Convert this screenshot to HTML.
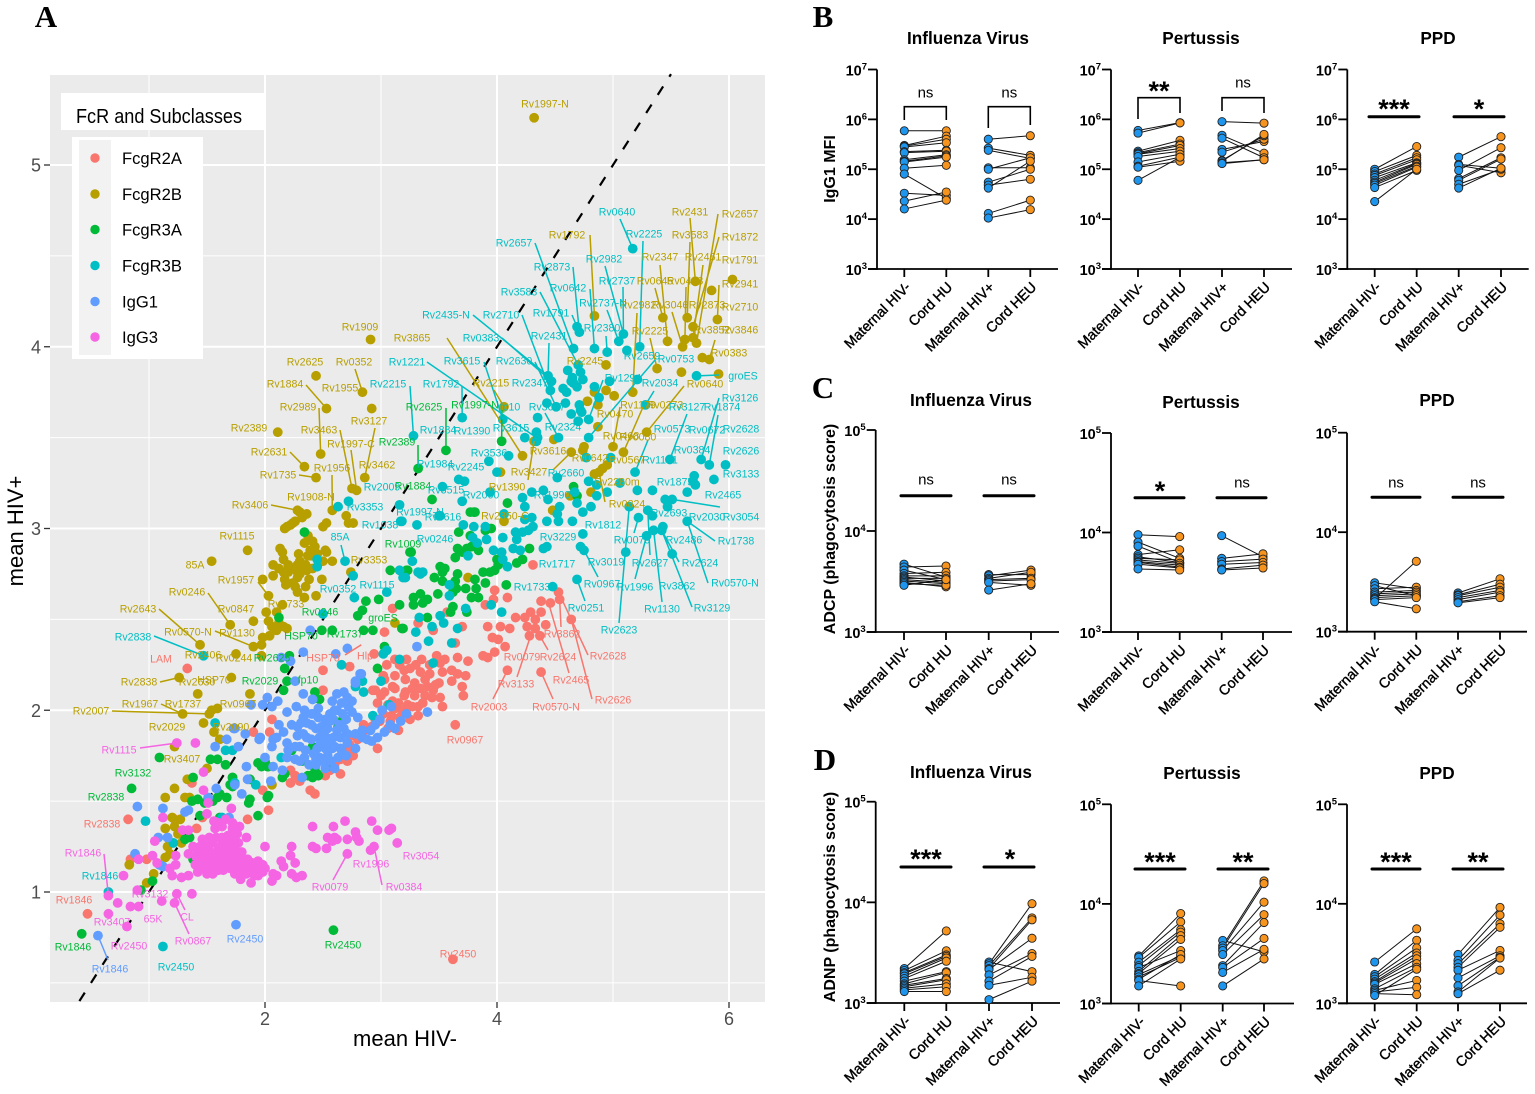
<!DOCTYPE html>
<html lang="en">
<head>
<meta charset="utf-8">
<title>FcR and subclass scatter with paired maternal and cord panels</title>
<style>
html,body{margin:0;padding:0;background:#fff;}
svg{display:block;font-family:"Liberation Sans",sans-serif;}
</style>
</head>
<body>
<svg id="figure" xmlns="http://www.w3.org/2000/svg" width="1535" height="1094" viewBox="0 0 1535 1094">
  <rect x="0" y="0" width="1535" height="1094" fill="#fff"/>
  <text x="46" y="27" text-anchor="middle" font-family="Liberation Serif, serif" font-weight="bold" font-size="31">A</text>
  <text x="823" y="27" text-anchor="middle" font-family="Liberation Serif, serif" font-weight="bold" font-size="31">B</text>
  <text x="823" y="398" text-anchor="middle" font-family="Liberation Serif, serif" font-weight="bold" font-size="31">C</text>
  <text x="825" y="770" text-anchor="middle" font-family="Liberation Serif, serif" font-weight="bold" font-size="31">D</text>
  <g id="scatter"></g>
  <g>
    <rect x="61" y="93" width="203" height="37" fill="#fff"/>
    <text x="76" y="123" font-size="20" textLength="166" lengthAdjust="spacingAndGlyphs">FcR and Subclasses</text>
    <rect x="72" y="137" width="131" height="222" fill="#fff"/>
    <rect x="79" y="140" width="32" height="215" fill="#F2F2F2"/>
    <circle cx="95" cy="158" r="4.7" fill="#F8766D"/>
    <circle cx="95" cy="194" r="4.7" fill="#B79F00"/>
    <circle cx="95" cy="229.5" r="4.7" fill="#00BA38"/>
    <circle cx="95" cy="265.5" r="4.7" fill="#00BFC4"/>
    <circle cx="95" cy="301.5" r="4.7" fill="#619CFF"/>
    <circle cx="95" cy="337" r="4.7" fill="#F564E3"/>
    <text x="122" y="164" font-size="16.6">FcgR2A</text>
    <text x="122" y="200" font-size="16.6">FcgR2B</text>
    <text x="122" y="235.5" font-size="16.6">FcgR3A</text>
    <text x="122" y="271.5" font-size="16.6">FcgR3B</text>
    <text x="122" y="307.5" font-size="16.6">IgG1</text>
    <text x="122" y="343" font-size="16.6">IgG3</text>
  </g>
  <text x="405" y="1046" text-anchor="middle" font-size="22">mean HIV-</text>
  <text x="23" y="531" text-anchor="middle" font-size="22" transform="rotate(-90 23 531)">mean HIV+</text>
  <text x="835" y="169" text-anchor="middle" font-size="16" font-weight="bold" transform="rotate(-90 835 169)">IgG1 MFI</text>
  <text x="835" y="529" text-anchor="middle" font-size="16" font-weight="bold" transform="rotate(-90 835 529)">ADCP (phagocytosis score)</text>
  <text x="835" y="897" text-anchor="middle" font-size="16" font-weight="bold" transform="rotate(-90 835 897)">ADNP (phagocytosis score)</text>
  <g id="panels"></g>
</svg>
<script>
/* ---------- Panel A data: mean HIV- , mean HIV+ ---------- */
const fcgr2aPoints=[[3.62,.63],[3.64,1.92],[4.09,2.22],[4.38,2.21],[4.53,2.65],[4.54,2.61],[4.38,2.60],[4.46,2.59],[4.64,2.50],[4.33,2.50],[4.29,2.54],[4.38,2.54],[4.24,2.51],[4.16,2.51],[4.28,2.41],[4.37,2.41],[3.92,2.46],[4.03,2.46],[4.11,2.45],[3.96,2.40],[4.01,2.39],[4.07,2.35],[3.98,2.32],[3.88,2.30],[3.92,2.29],[3.98,2.66],[3.97,2.61],[4.09,2.62],[3.90,2.58],[3.66,2.29],[3.75,2.27],[3.61,2.22],[3.66,2.20],[3.73,2.19],[3.61,2.16],[3.70,2.13],[3.71,2.08],[3.53,2.02],[3.45,2.11],[3.51,2.07],[2.97,1.79],[3.03,2.43],[2.94,2.31],[2.73,2.24],[2.50,2.22],[2.50,2.11],[2.93,2.11],[3.02,2.19],[2.04,1.88],[2.06,1.95],[3.16,2.25],[3.25,2.23],[3.34,2.21],[3.42,2.25],[3.51,2.26],[3.53,2.21],[3.03,2.17],[3.12,2.19],[3.21,2.17],[3.29,2.15],[3.38,2.17],[3.47,2.14],[2.95,2.11],[3.03,2.10],[3.12,2.12],[3.21,2.10],[3.29,2.08],[3.38,2.08],[3.44,2.07],[2.97,2.04],[3.06,2.03],[3.15,2.04],[3.23,2.03],[3.32,2.02],[3.09,1.97],[3.16,1.96],[3.25,1.95],[3.32,1.97],[2.99,1.94],[3.06,1.90],[3.15,1.89],[2.92,1.91],[2.84,1.87],[2.75,1.86],[2.65,1.73],[2.69,1.78],[2.73,1.81],[2.56,1.67],[2.52,1.64],[2.39,1.56],[2.60,1.70],[2.43,1.54],[2.30,1.61],[2.22,1.67],[2.65,1.65],[2.76,1.75],[2.71,1.72],[2.26,1.64],[2.22,1.60],[2.03,1.45],[1.85,1.40],[1.98,1.56],[.82,1.40],[.47,.88],[.84,1.18],[.98,1.18],[1.41,1.35],[1.46,1.41],[1.37,1.60],[1.22,1.40],[1.33,2.23],[3.10,2.56],[3.32,2.48],[3.45,2.44],[3.57,2.54],[3.70,2.46],[3.64,2.37],[4.31,2.80],[1.90,1.88],[3.05,2.25],[3.10,2.13],[3.20,2.22],[3.30,2.25],[3.40,2.13],[3.00,2.08],[3.10,2.05],[3.18,2.00],[3.27,2.02],[3.36,2.04],[3.42,2.20],[3.50,2.15],[3.20,2.08],[3.08,1.94],[3.02,1.98],[2.95,1.95],[2.85,1.92],[3.12,2.28],[3.22,2.28],[3.35,2.28],[3.55,2.28],[3.48,2.30],[2.80,1.84],[2.72,1.78],[3.12,2.01],[3.27,2.12],[3.34,2.12],[4.26,2.46],[4.33,2.45],[4.42,2.47]];
const fcgr2bPoints=[[4.32,5.26],[6.03,4.37],[5.71,4.36],[5.85,4.31],[5.90,4.15],[5.64,4.16],[5.69,4.11],[5.69,4.05],[5.72,4.02],[5.62,4.04],[5.60,4.0],[5.47,4.03],[5.43,4.16],[4.84,4.17],[5.77,3.94],[5.83,3.93],[5.91,3.85],[5.59,3.86],[5.38,3.88],[4.94,3.90],[5.17,3.75],[4.84,3.75],[4.94,3.76],[5.01,3.73],[4.78,3.70],[4.87,3.68],[4.06,3.67],[4.87,3.56],[5.29,3.53],[5.0,3.45],[5.09,3.42],[4.75,3.45],[4.74,3.43],[4.64,3.42],[4.49,3.49],[4.32,3.48],[4.22,3.40],[4.03,3.31],[4.95,3.35],[4.91,3.33],[4.88,3.31],[4.84,3.30],[4.81,3.20],[4.63,3.18],[4.48,3.10],[3.75,2.73],[4.06,3.04],[2.91,4.04],[2.44,3.84],[2.53,3.66],[2.84,3.75],[2.92,3.66],[2.11,3.53],[2.48,3.41],[2.34,3.34],[2.44,3.28],[2.86,3.28],[2.75,3.22],[2.79,3.21],[2.28,3.10],[2.36,3.08],[2.32,3.06],[2.26,3.04],[2.22,3.02],[2.17,3.0],[2.19,3.01],[2.58,3.10],[2.70,3.07],[2.72,3.03],[2.76,3.03],[2.53,3.03],[2.50,3.01],[1.85,2.88],[1.54,2.82],[2.41,2.93],[2.43,2.90],[2.39,2.88],[2.37,2.85],[2.52,2.88],[2.53,2.87],[2.58,2.82],[2.50,2.82],[2.37,2.96],[2.13,2.89],[2.15,2.87],[2.16,2.83],[2.29,2.86],[2.07,2.80],[2.07,2.74],[2.28,2.80],[2.32,2.77],[2.28,2.76],[2.36,2.77],[2.41,2.78],[2.16,2.76],[2.20,2.76],[2.17,2.72],[2.28,2.73],[2.49,2.72],[1.98,2.72],[2.26,2.68],[2.28,2.65],[2.35,2.68],[2.44,2.63],[2.34,2.62],[2.03,2.63],[2.74,2.76],[1.70,2.47],[1.90,2.49],[2.01,2.54],[2.15,2.58],[2.10,2.54],[2.03,2.49],[2.16,2.46],[2.10,2.44],[2.19,2.45],[2.04,2.41],[1.98,2.40],[1.90,2.35],[1.97,2.36],[1.44,2.36],[1.75,2.31],[1.97,2.30],[1.26,2.18],[1.71,2.18],[1.42,2.09],[1.87,2.09],[1.54,2.0],[1.59,2.01],[1.52,1.98],[1.29,1.98],[1.47,1.93],[1.56,1.88],[1.61,1.84],[1.22,1.80],[3.12,2.48],[1.33,1.62],[1.22,1.57],[1.14,1.52],[1.31,1.52],[1.35,1.52],[1.50,1.68],[2.06,1.59],[1.20,1.41],[1.27,1.40],[1.22,1.36],[1.14,1.35],[1.25,1.32],[1.16,1.30],[1.28,1.27],[1.16,1.25],[1.14,1.19],[1.18,1.21],[.83,1.15],[1.04,1.10],[.98,1.05],[2.30,2.82],[2.35,2.80],[2.25,2.78],[2.40,2.85],[2.45,2.86],[2.30,2.75],[2.20,2.80],[2.12,2.78],[2.38,2.72],[2.24,2.70],[2.18,2.69],[2.12,2.48],[2.06,2.46],[2.30,3.09],[2.24,3.03],[2.42,2.87],[2.34,2.92]];
const fcgr3aPoints=[[2.59,.79],[.42,.77],[.85,1.57],[1.09,1.74],[3.32,3.33],[3.56,3.43],[4.04,3.48],[4.66,3.23],[4.69,3.18],[3.44,3.16],[4.09,3.14],[3.81,3.09],[3.77,3.09],[3.80,3.09],[3.67,2.98],[3.95,3.0],[3.90,2.99],[3.77,2.96],[3.66,2.89],[3.70,2.87],[3.74,2.89],[3.78,2.90],[3.84,2.88],[3.64,2.84],[4.0,2.83],[4.01,2.80],[3.98,2.77],[4.17,2.81],[4.22,2.83],[4.28,2.89],[4.08,2.69],[3.51,2.79],[3.55,2.78],[3.53,2.76],[3.46,2.73],[3.53,2.71],[3.66,2.75],[3.64,2.71],[3.65,2.67],[3.73,2.67],[3.81,2.72],[3.82,2.67],[3.78,2.62],[3.84,2.62],[3.88,2.76],[3.94,2.76],[3.90,2.70],[3.40,2.61],[3.34,2.64],[3.28,2.62],[3.36,2.59],[3.28,2.58],[3.49,2.64],[3.62,2.65],[3.62,2.57],[3.60,2.54],[3.74,2.54],[3.40,2.51],[3.25,2.87],[3.22,2.77],[3.19,2.45],[2.34,2.98],[2.12,2.51],[2.49,2.44],[2.58,2.44],[2.85,2.44],[2.93,2.44],[3.18,2.45],[2.80,2.52],[2.84,2.55],[2.87,2.60],[2.98,2.61],[3.16,2.58],[3.08,2.77],[3.23,2.77],[3.26,2.87],[2.97,2.23],[3.03,2.35],[2.17,2.23],[2.21,2.30],[2.19,2.16],[2.16,2.11],[2.43,2.10],[2.47,2.06],[2.66,1.94],[2.63,1.91],[2.41,1.80],[2.54,1.69],[2.43,1.68],[2.39,1.64],[2.46,1.64],[2.41,1.63],[2.32,1.72],[2.23,1.78],[2.0,1.72],[1.97,1.69],[2.03,1.69],[2.15,1.63],[2.17,1.65],[1.72,1.63],[1.72,1.58],[2.03,1.53],[1.87,1.62],[1.38,1.63],[1.53,1.73],[1.59,1.73],[1.66,1.70],[1.72,1.63],[1.70,1.59],[1.87,1.51],[1.86,1.49],[2.02,1.52],[1.94,1.42],[1.61,1.54],[1.67,1.52],[1.55,1.50],[1.59,1.52],[1.37,1.50],[1.42,1.51],[1.48,1.49],[1.44,1.42],[1.61,1.41],[1.31,1.29],[1.35,1.30],[1.03,1.06],[.93,1.01],[1.38,1.18],[1.94,1.71],[2.02,1.69],[2.37,1.64],[2.45,1.65]];
const fcgr3bPoints=[[5.17,4.54],[4.69,4.11],[4.71,4.08],[4.66,3.99],[4.84,3.99],[4.95,3.97],[5.05,4.03],[5.09,4.07],[5.12,3.98],[5.23,4.0],[4.70,3.90],[4.61,3.87],[4.44,3.84],[4.72,3.86],[4.65,3.83],[4.74,3.82],[4.64,3.81],[4.47,3.81],[4.66,3.80],[4.69,3.78],[4.57,3.77],[4.60,3.75],[4.46,3.76],[4.84,3.78],[4.97,3.81],[4.88,3.72],[4.59,3.69],[4.43,3.69],[4.51,3.67],[4.71,3.68],[4.72,3.65],[4.64,3.63],[4.73,3.64],[4.79,3.60],[4.70,3.59],[5.21,3.82],[5.72,3.84],[5.28,3.68],[4.05,3.60],[3.70,3.61],[4.35,3.61],[4.34,3.53],[4.35,3.50],[4.24,3.50],[4.34,3.48],[4.53,3.50],[4.79,3.50],[3.28,3.51],[4.10,3.40],[3.93,3.37],[4.0,3.31],[3.67,3.27],[3.72,3.26],[3.53,3.23],[3.94,3.20],[3.70,3.15],[4.77,3.39],[4.98,3.39],[5.49,3.38],[5.76,3.38],[5.83,3.35],[5.97,3.35],[5.19,3.31],[5.70,3.29],[5.69,3.26],[5.71,3.24],[5.87,3.27],[5.64,3.20],[5.34,3.21],[5.21,3.21],[5.06,3.25],[4.95,3.20],[4.86,3.18],[4.86,3.24],[4.79,3.26],[4.52,3.28],[4.67,3.20],[4.69,3.14],[4.81,3.12],[4.54,3.12],[4.40,3.21],[4.44,3.16],[4.30,3.20],[4.22,3.17],[4.24,3.12],[5.14,3.12],[5.30,3.10],[5.34,3.07],[5.22,3.06],[5.45,3.16],[5.51,3.16],[5.47,3.12],[5.64,3.04],[5.43,3.01],[5.35,2.99],[5.42,2.99],[5.29,2.96],[5.11,2.87],[5.51,2.86],[4.74,2.97],[4.72,2.90],[4.75,2.88],[4.40,2.89],[4.43,2.90],[4.69,2.72],[4.48,2.68],[4.43,3.04],[4.65,3.04],[4.53,3.04],[4.52,3.08],[4.74,3.09],[4.30,3.06],[4.24,3.05],[4.31,3.01],[4.27,2.99],[4.22,2.98],[4.16,2.98],[4.17,2.94],[4.14,2.89],[4.20,2.88],[4.06,3.08],[3.71,3.02],[3.80,3.01],[3.90,3.01],[3.91,2.94],[3.79,2.95],[3.83,2.92],[4.05,2.95],[3.97,2.88],[4.04,2.87],[4.05,2.83],[4.09,2.79],[3.75,2.85],[3.31,3.02],[3.18,3.04],[3.51,3.07],[3.27,2.82],[3.34,2.75],[3.19,2.73],[3.59,2.69],[3.59,2.63],[3.73,2.56],[3.51,2.52],[3.54,2.48],[3.33,2.51],[3.44,2.46],[3.30,2.43],[3.41,2.38],[3.61,2.37],[3.66,2.45],[3.95,2.58],[4.04,2.54],[3.45,2.26],[2.69,2.82],[2.45,2.83],[2.45,2.79],[2.76,2.74],[2.77,2.62],[3.05,2.65],[3.16,2.77],[3.21,2.73],[3.32,2.76],[3.36,2.76],[2.50,2.53],[2.66,2.25],[3.02,2.31],[3.05,2.33],[3.16,2.28],[3.0,2.16],[2.84,2.16],[2.78,2.13],[2.85,2.10],[3.07,2.03],[2.93,1.97],[1.57,1.93],[3.16,3.13],[3.17,3.04],[2.63,3.12],[2.72,3.15],[3.50,3.07],[1.47,2.30],[1.66,1.78],[1.72,1.78],[1.74,1.60],[1.92,1.59],[2.14,1.74],[1.63,1.41],[1.21,1.27],[.97,1.39],[.65,1.0],[1.12,.70]];
const igg1Points=[[1.75,.82],[.56,.76],[.90,1.47],[1.12,1.46],[.88,1.21],[1.08,1.30],[1.16,1.30],[1.31,1.44],[1.34,1.45],[1.58,1.57],[1.51,1.52],[1.69,1.41],[1.09,1.15],[1.12,1.14],[2.39,2.44],[2.33,2.32],[2.61,2.31],[2.71,2.34],[2.14,2.29],[2.22,2.27],[2.26,2.16],[1.88,2.03],[1.98,2.03],[2.02,2.07],[2.06,2.02],[2.11,2.05],[2.33,2.09],[2.41,2.06],[2.82,2.20],[2.78,2.15],[3.31,2.35],[1.74,1.90],[1.83,1.87],[1.67,1.84],[1.57,1.80],[1.77,1.80],[1.95,1.84],[2.62,2.09],[2.71,2.07],[2.66,2.04],[2.62,2.0],[2.56,1.98],[2.67,1.98],[2.52,1.95],[2.59,1.95],[2.49,1.91],[2.54,1.90],[2.62,1.89],[2.47,1.85],[2.53,1.85],[2.59,1.85],[2.65,1.85],[2.71,1.87],[2.45,1.79],[2.52,1.79],[2.58,1.79],[2.65,1.79],[2.47,1.74],[2.54,1.75],[2.63,1.74],[2.44,1.73],[2.78,1.87],[2.84,1.89],[2.91,1.89],[2.97,1.85],[2.92,1.83],[2.84,1.85],[2.78,1.79],[2.71,1.82],[2.99,1.95],[3.01,2.0],[3.08,1.92],[3.09,2.02],[3.17,1.94],[3.22,1.98],[3.40,1.99],[2.80,1.96],[2.75,1.99],[2.83,2.20],[2.78,2.16],[2.27,2.02],[2.41,2.06],[2.19,1.99],[2.34,2.0],[2.46,2.01],[2.41,1.98],[2.33,1.96],[2.23,1.92],[2.28,1.91],[2.36,1.93],[2.28,1.86],[2.33,1.87],[2.19,1.82],[2.26,1.80],[2.06,1.80],[2.07,1.84],[1.96,1.85],[1.73,1.90],[2.0,1.74],[2.19,1.74],[2.26,1.73],[2.34,1.74],[2.32,1.63],[2.07,1.69],[2.15,1.67],[1.84,1.69],[2.05,1.61],[1.74,1.59],[1.85,1.62],[1.80,1.54],[2.30,1.72],[2.35,1.78],[2.38,1.70],[2.40,1.84],[2.44,1.90],[2.42,1.76],[2.48,1.82],[2.50,1.88],[2.50,1.72],[2.55,1.82],[2.56,1.94],[2.57,1.72],[2.60,1.80],[2.60,2.0],[2.64,1.92],[2.68,1.90],[2.66,1.78],[2.70,1.95],[2.72,2.02],[2.58,2.05],[2.68,2.10],[2.75,2.05],[2.46,1.96],[2.40,1.92],[2.36,1.85],[2.44,1.70],[2.52,1.68],[2.60,1.68],[2.70,1.75],[2.88,1.84],[2.95,1.92],[3.03,1.88],[3.12,1.90],[2.12,1.92],[2.16,1.88],[2.10,1.85],[2.20,1.78],[2.30,1.80],[2.40,1.98],[2.31,1.93]];
const igg3Points=[[2.41,1.36],[2.59,1.36],[2.69,1.39],[2.92,1.39],[2.97,1.34],[2.78,1.33],[3.07,1.34],[3.09,1.35],[2.54,1.30],[2.60,1.30],[2.58,1.28],[2.62,1.29],[2.71,1.29],[2.79,1.30],[2.81,1.28],[3.14,1.27],[2.41,1.25],[2.44,1.24],[2.53,1.24],[2.94,1.25],[2.91,1.23],[2.71,1.21],[2.23,1.25],[2.22,1.20],[2.26,1.16],[2.14,1.17],[2.16,1.14],[2.07,1.10],[2.10,1.09],[2.06,1.06],[2.23,1.10],[2.27,1.08],[2.32,1.09],[2.0,1.25],[1.84,1.30],[1.56,1.39],[1.57,1.35],[1.63,1.36],[1.76,1.32],[1.68,1.31],[1.63,1.30],[1.74,1.30],[1.46,1.29],[1.55,1.27],[1.63,1.26],[1.70,1.27],[1.77,1.27],[1.50,1.25],[1.38,1.25],[1.34,1.21],[1.42,1.22],[1.53,1.22],[1.59,1.22],[1.67,1.22],[1.74,1.23],[1.80,1.22],[1.41,1.19],[1.48,1.19],[1.55,1.19],[1.63,1.19],[1.70,1.19],[1.77,1.19],[1.81,1.18],[1.40,1.15],[1.48,1.15],[1.57,1.15],[1.67,1.15],[1.74,1.15],[1.83,1.14],[1.89,1.16],[1.94,1.17],[1.98,1.15],[1.42,1.11],[1.50,1.10],[1.55,1.10],[1.64,1.12],[1.74,1.10],[1.80,1.11],[1.87,1.11],[1.94,1.09],[1.98,1.11],[1.79,1.07],[1.88,1.05],[1.23,1.20],[1.03,1.20],[.91,1.18],[1.07,1.16],[1.18,1.13],[1.23,1.15],[1.20,1.09],[1.28,1.08],[1.34,1.09],[.78,1.09],[.90,1.01],[.65,.98],[.73,.94],[.84,.92],[.91,.92],[1.11,.95],[1.24,.99],[1.37,.99],[1.22,.94],[.65,.88],[.81,.81],[1.51,1.49],[1.47,1.56],[1.47,1.66],[1.71,1.46],[1.50,1.43],[1.12,1.41],[1.05,1.28],[1.29,1.34],[1.34,1.34],[1.24,1.82],[1.40,1.82],[1.44,1.25],[1.52,1.30],[1.58,1.30],[1.67,1.30],[1.72,1.33],[1.60,1.24],[1.66,1.26],[1.73,1.26],[1.46,1.22],[1.50,1.20],[1.57,1.21],[1.62,1.21],[1.70,1.22],[1.76,1.22],[1.44,1.17],[1.52,1.16],[1.60,1.16],[1.65,1.17],[1.72,1.17],[1.78,1.17],[1.85,1.18],[1.90,1.13],[1.45,1.13],[1.53,1.13],[1.60,1.12],[1.70,1.13],[1.77,1.13],[1.84,1.10],[1.91,1.09],[1.96,1.12],[2.0,1.13],[1.72,1.35],[1.66,1.40],[1.72,1.38],[1.60,1.38],[1.78,1.36]];
const identityLine=[0.4,5.5];
const xTickLabels=[2,4,6];
const yTickLabels=[1,2,3,4,5];
const xGridMinor=[1,3,5];
const yGridMinor=[0.5,1.5,2.5,3.5,4.5];

/* ---------- Panel A annotation layout (label text, label centre px) ---------- */
const fcgr2aLabelLayout=[["Rv3862",562,634],["Rv2628",608,656],["Rv0079",522,657],["Rv2624",558,657],["Rv3133",516,684],["Rv2465",571,680],["Rv2626",613,700],["Rv2003",489,707],["Rv0570-N",556,707],["Rv0967",465,740],["Rv2450",458,954],["LAM",161,659],["HSP70",323,658],["Hlp",365,656],["Rv2838",102,824],["Rv1846",74,900]];
const fcgr2bLabelLayout=[["Rv1997-N",545,104],["Rv1909",360,327],["Rv3865",412,338],["Rv2625",305,362],["Rv0352",354,362],["Rv1884",285,384],["Rv1955",340,388],["Rv2989",298,407],["Rv3127",369,421],["Rv2389",249,428],["Rv3463",319,430],["Rv2631",269,452],["Rv1997-C",351,444],["Rv3462",377,465],["Rv1735",278,475],["Rv1956",332,468],["Rv1908-N",311,497],["Rv3406",250,505],["Rv1115",237,536],["85A",195,565],["Rv3353",369,560],["Rv1957",236,580],["Rv0246",187,592],["Rv0847",236,609],["Rv2643",138,609],["Rv0733",286,604],["Rv0570-N",188,632],["Rv1130",237,633],["Rv2406",203,655],["Rv0244",234,658],["Rv2838",139,682],["Rv2630",197,682],["HSP70",214,680],["Rv1967",140,704],["Rv1737",183,704],["Rv0967",238,704],["Rv2007",91,711],["Rv2029",167,727],["Rv2090",231,727],["Rv3407",182,759],["Rv2431",690,212],["Rv2657",740,214],["Rv3583",690,235],["Rv1872",740,237],["Rv2461",703,257],["Rv1791",740,260],["Rv2347",660,257],["Rv2941",740,284],["Rv0645",655,281],["Rv0448",685,281],["Rv2710",740,307],["Rv3046",670,305],["Rv2873",707,305],["Rv2982",638,305],["Rv3852",712,330],["Rv3846",740,330],["Rv2225",650,331],["Rv0383",729,353],["Rv1792",567,235],["Rv2245",585,361],["Rv0640",705,384],["Rv2215",491,383],["Rv1390",507,487],["Rv3427",529,472],["Rv3616",548,451],["Rv0470",615,414],["Rv1179",638,405],["Rv0273",665,405],["Rv0468",621,436],["Rv0080",638,437],["Rv0642",590,458],["Rv0567",627,460],["Rv2280m",617,482],["Rv0824",627,504],["Rv2350-C",505,516]];
const fcgr3aLabelLayout=[["Rv2625",424,407],["Rv2389",397,442],["Rv1997-N",475,405],["Rv1884",413,486],["Rv1009",403,544],["Rv0246",320,612],["HSP70",301,636],["Rv1737",345,634],["groES",383,618],["Rv2625",272,658],["Rv2029",260,681],["fp10",308,680],["Rv3132",133,773],["Rv2838",106,797],["Rv1846",73,947],["Rv2450",343,945]];
const fcgr3bLabelLayout=[["Rv0640",617,212],["Rv2225",644,234],["Rv2657",514,243],["Rv2873",552,267],["Rv2982",604,259],["Rv3583",519,292],["Rv0642",568,288],["Rv2737",617,281],["Rv2435-N",446,315],["Rv2710",501,315],["Rv1791",551,313],["Rv2737-N",603,303],["Rv0383",481,338],["Rv2431",549,336],["Rv2380",602,328],["Rv1221",407,362],["Rv3615",462,361],["Rv2630",514,361],["Rv2215",388,384],["Rv1792",441,384],["Rv2347",530,383],["Rv3047",547,407],["fp10",510,407],["Rv2659",642,356],["Rv0753",676,359],["Rv1294",623,378],["Rv2034",660,383],["groES",743,376],["Rv3126",740,398],["Rv1874",722,407],["Rv3127",687,407],["Rv3615",511,428],["Rv1884",438,430],["Rv1390",472,431],["Rv2324",563,427],["Rv0573",672,429],["Rv0672",707,430],["Rv2628",741,429],["Rv3536",489,453],["Rv0384",692,450],["Rv2626",741,451],["Rv1984",435,464],["Rv2245",466,467],["Rv2660",566,473],["Rv1161",660,460],["Rv3133",741,474],["Rv1875",675,482],["Rv2465",723,495],["Rv3515",446,490],["Rv2060",481,495],["Rv1990",552,495],["Rv1997-N",420,512],["Rv0616",443,517],["Rv0246",435,539],["Rv1812",603,525],["Rv3229",558,537],["Rv1717",557,564],["Rv1733",532,587],["Rv0251",586,608],["Rv0967",602,584],["Rv3019",606,562],["Rv2693",669,513],["Rv2030",707,517],["Rv3054",741,517],["Rv1738",736,541],["Rv0079",632,540],["Rv2486",684,540],["Rv2627",650,563],["Rv2624",700,563],["Rv1996",635,587],["Rv3862",677,586],["Rv0570-N",735,583],["Rv1130",662,609],["Rv3129",712,608],["Rv2623",619,630],["Rv3353",365,507],["Rv1038",380,525],["85A",340,537],["Rv0352",338,589],["Rv1115",377,585],["Rv2838",133,637],["Rv2009",382,487],["Rv1846",100,876],["Rv2450",176,967]];
const igg1LabelLayout=[["Rv2450",245,939],["Rv1846",110,969]];
const igg3LabelLayout=[["Rv1115",119,750],["Rv1846",83,853],["Rv3054",421,856],["Rv1996",371,864],["Rv0079",330,887],["Rv0384",404,887],["Rv3132",150,894],["65K",153,919],["CL",187,917],["Rv0867",193,941],["Rv3407",112,922],["Rv2450",129,946]];

/* ---------- Panel A leaders: label-side start (px) and target point (data units) ---------- */
const fcgr2aLeaders=[[561,627,4.54,2.61],[588,655,4.53,2.65],[548,650,4.36,2.42],[517,677,4.29,2.41],[569,673,4.44,2.60],[592,699,4.64,2.50],[493,699,4.09,2.22],[553,699,4.38,2.21],[345,655,2.83,2.36]];
const fcgr2bLeaders=[[447,338,4.22,3.40],[355,369,2.84,3.75],[306,385,2.53,3.66],[319,408,2.48,3.41],[375,428,2.86,3.28],[340,430,2.75,3.22],[290,452,2.34,3.34],[351,450,2.79,3.21],[299,475,2.44,3.28],[332,475,2.58,3.10],[271,505,2.28,3.10],[258,582,2.03,2.63],[208,593,1.70,2.47],[159,609,1.44,2.36],[215,631,1.90,2.35],[160,682,1.26,2.18],[161,704,1.29,1.98],[112,711,1.52,1.98],[690,218,5.71,4.36],[718,214,5.72,4.02],[690,242,5.64,4.16],[719,237,5.69,4.11],[703,265,5.69,4.05],[660,265,5.47,4.03],[719,285,5.90,4.15],[655,288,5.43,4.16],[672,312,5.60,4.0],[686,287,5.62,4.04],[715,340,5.83,3.93],[590,235,4.84,4.17],[637,313,5.17,3.75],[650,338,5.38,3.88],[684,386,5.29,3.53],[494,390,4.06,3.67],[528,480,4.32,3.48],[553,470,4.64,3.42],[620,407,5.0,3.45],[643,407,5.09,3.42],[605,502,4.88,3.31]];
const fcgr3aLeaders=[[446,408,3.56,3.43],[418,445,3.32,3.33],[502,410,4.04,3.48]];
const fcgr3bLeaders=[[620,219,5.17,4.54],[643,241,5.23,4.0],[535,243,4.66,3.99],[573,267,4.71,4.08],[605,266,5.09,4.07],[540,292,4.70,3.90],[590,289,4.84,3.99],[623,287,5.09,4.07],[473,315,4.44,3.84],[522,315,4.46,3.76],[572,315,4.69,4.11],[607,310,5.05,4.03],[502,338,4.47,3.81],[549,343,4.44,3.84],[606,336,4.95,3.97],[427,362,4.34,3.50],[484,362,4.05,3.60],[535,362,4.51,3.67],[410,386,3.28,3.51],[462,386,3.70,3.61],[655,360,4.79,3.50],[603,380,4.79,3.60],[654,391,5.28,3.68],[719,375,5.72,3.84],[719,398,5.76,3.38],[718,415,5.83,3.35],[687,414,5.49,3.38],[545,413,4.53,3.50],[648,440,5.19,3.31],[585,601,4.69,2.72],[598,577,4.75,2.88],[715,541,5.64,3.04],[720,507,5.51,3.16],[634,533,5.22,3.06],[650,555,5.30,3.10],[679,562,5.42,2.99],[635,579,5.29,2.96],[708,583,5.64,3.04],[662,602,5.35,2.99],[692,607,5.42,2.99],[619,623,5.14,3.12],[341,545,2.69,2.82],[154,636,1.47,2.30]];
const igg1Leaders=[[108,960,.56,.76]];
const igg3Leaders=[[140,748,1.24,1.82],[104,854,.65,.98],[333,880,2.71,1.21],[382,885,2.94,1.25],[185,910,1.24,.99],[189,934,1.22,.94]];

/* ---------- Panels B-D data ---------- */
const catLabels=["Maternal HIV-","Cord HU","Maternal HIV+","Cord HEU"];
const igg1FluNeg=[590e3,300e3,290e3,280e3,225e3,215e3,155e3,145e3,140e3,105e3,80e3,33e3,23e3,16e3];
const igg1FluHu=[590e3,460e3,400e3,340e3,240e3,230e3,195e3,185e3,175e3,120e3,26e3,30e3,35e3,24e3];
const igg1FluPos=[400e3,265e3,240e3,107e3,100e3,55e3,48e3,42e3,13e3,10.5e3];
const igg1FluHeu=[470e3,190e3,165e3,107e3,170e3,100e3,63e3,145e3,24e3,15.5e3];
const igg1PerNeg=[600e3,530e3,230e3,215e3,205e3,200e3,180e3,140e3,115e3,110e3,60e3];
const igg1PerHu=[860e3,850e3,380e3,320e3,300e3,260e3,230e3,200e3,175e3,145e3,175e3];
const igg1PerPos=[900e3,480e3,420e3,250e3,220e3,150e3,145e3,135e3,130e3];
const igg1PerHeu=[840e3,210e3,170e3,360e3,400e3,470e3,500e3,155e3,155e3];
const igg1PpdNeg=[100e3,90e3,80e3,75e3,68e3,60e3,55e3,52e3,48e3,43e3,22.5e3];
const igg1PpdHu=[285e3,190e3,170e3,155e3,135e3,130e3,125e3,115e3,110e3,95e3,100e3];
const igg1PpdPos=[175e3,125e3,120e3,95e3,65e3,60e3,50e3,42e3];
const igg1PpdHeu=[450e3,105e3,85e3,270e3,170e3,160e3,100e3,105e3];
const adcpFluNeg=[4700,4400,4100,3800,3600,3500,3400,3300,3200,3100,3000,2900];
const adcpFluHu=[3500,4500,3300,3900,3600,3200,3400,3100,3000,2800,2900,3300];
const adcpFluPos=[3700,3600,3400,3300,3200,3100,2600];
const adcpFluHeu=[3700,4100,3900,3400,3300,2900,3000];
const adcpPerNeg=[9500,8000,7300,6000,5700,5500,5300,5100,5000,4800,4300];
const adcpPerHu=[9100,5500,5000,6700,5000,5300,4900,4700,4500,4400,4200];
const adcpPerPos=[9300,5500,5100,4800,4300,4200];
const adcpPerHeu=[5700,6100,5400,5000,4700,4400];
const adcpPpdNeg=[3100,2900,2700,2500,2400,2300,2200,2150,2100,2000];
const adcpPpdHu=[2700,2300,2800,2600,2500,2400,2300,5100,2200,1700];
const adcpPpdPos=[2450,2350,2300,2200,2100,2000,1950];
const adcpPpdHeu=[3400,3000,2800,2600,2500,2300,2200];
const adnpFluNeg=[2200,2100,2000,1950,1850,1750,1650,1550,1500,1450,1400,1350,1300];
const adnpFluHu=[5200,3300,3000,2900,2800,2600,2050,2000,1750,1700,1550,1450,1300];
const adnpFluPos=[2550,2450,2350,2200,2150,1900,1650,1500,1080];
const adnpFluHeu=[2050,9700,7000,6700,4400,3100,2900,1800,1650];
const adnpPerNeg=[3000,2900,2600,2400,2300,2100,2000,1950,1850,1750,1700,1500];
const adnpPerHu=[8000,6600,5500,5200,3400,4800,4400,3000,2900,3100,1500,2800];
const adnpPerPos=[4300,3800,3600,3400,3100,2400,2300,2050,1500];
const adnpPerHeu=[3300,17000,16000,10400,7800,6500,4500,3500,2800];
const adnpPpdNeg=[2600,1950,1850,1750,1650,1600,1550,1400,1350,1300,1250,1200];
const adnpPpdHu=[5600,4300,3600,3200,3000,2800,2500,2300,1700,1450,1220,2200];
const adnpPpdPos=[3100,2700,2500,2300,2150,1800,1500,1300,1250];
const adnpPpdHeu=[9200,7700,6300,5800,3400,3000,2900,2850,2150];

/* ---------- Helpers ---------- */
const SVGNS="http://www.w3.org/2000/svg";
function mk(tag,parent,attrs){
  const el=document.createElementNS(SVGNS,tag);
  for(const k in attrs){el.setAttribute(k,attrs[k]);}
  parent.appendChild(el);
  return el;
}

/* ---------- Panel A ---------- */
const scatter=document.getElementById("scatter");
const plotLeft=50,plotRight=765,plotTop=75,plotBottom=1002;
function sx(v){return 33+v*116;}
function sy(v){return 892-(v-1)*181.75;}
const panelRect=mk("rect",scatter,{x:plotLeft,y:plotTop,width:plotRight-plotLeft,height:plotBottom-plotTop,fill:"#EBEBEB"});


xGridMinor.forEach(function(v){
  const el=mk("line",scatter,{x1:sx(v),x2:sx(v),y1:plotTop,y2:plotBottom,stroke:"#fff","stroke-width":1});
  
  
});
yGridMinor.forEach(function(v){
  const el=mk("line",scatter,{x1:plotLeft,x2:plotRight,y1:sy(v),y2:sy(v),stroke:"#fff","stroke-width":1});
  
  
});
xTickLabels.forEach(function(v){
  const g=mk("line",scatter,{x1:sx(v),x2:sx(v),y1:plotTop,y2:plotBottom,stroke:"#fff","stroke-width":2});
  
  
  const t=mk("line",scatter,{x1:sx(v),x2:sx(v),y1:plotBottom,y2:plotBottom+6,stroke:"#333","stroke-width":1.3});
  
  
  const l=mk("text",scatter,{x:sx(v),y:plotBottom+23,"text-anchor":"middle","font-size":18,fill:"#4D4D4D"});
  
  
  l.textContent=v;
});
yTickLabels.forEach(function(v){
  const g=mk("line",scatter,{x1:plotLeft,x2:plotRight,y1:sy(v),y2:sy(v),stroke:"#fff","stroke-width":2});
  
  
  const t=mk("line",scatter,{x1:plotLeft-6,x2:plotLeft,y1:sy(v),y2:sy(v),stroke:"#333","stroke-width":1.3});
  
  
  const l=mk("text",scatter,{x:plotLeft-9,y:sy(v)+6.5,"text-anchor":"end","font-size":18,fill:"#4D4D4D"});
  
  
  l.textContent=v;
});
const idLine=mk("line",scatter,{x1:sx(identityLine[0]),y1:sy(identityLine[0]),x2:sx(identityLine[1]),y2:sy(identityLine[1]),stroke:"#000","stroke-width":2.2,"stroke-dasharray":"10 11.5"});



const seriesStyles=[
 {key:"fcgr2a",color:"#F8766D",pts:fcgr2aPoints,labels:fcgr2aLabelLayout,leaders:fcgr2aLeaders},
 {key:"fcgr2b",color:"#B79F00",pts:fcgr2bPoints,labels:fcgr2bLabelLayout,leaders:fcgr2bLeaders},
 {key:"fcgr3a",color:"#00BA38",pts:fcgr3aPoints,labels:fcgr3aLabelLayout,leaders:fcgr3aLeaders},
 {key:"fcgr3b",color:"#00BFC4",pts:fcgr3bPoints,labels:fcgr3bLabelLayout,leaders:fcgr3bLeaders},
 {key:"igg1",color:"#619CFF",pts:igg1Points,labels:igg1LabelLayout,leaders:igg1Leaders},
 {key:"igg3",color:"#F564E3",pts:igg3Points,labels:igg3LabelLayout,leaders:igg3Leaders}
];
seriesStyles.forEach(function(s){
  s.pts.forEach(function(p){
    const c=mk("circle",scatter,{cx:sx(p[0]),cy:sy(p[1]),r:4.9,fill:s.color});
    
    
  });
});
seriesStyles.forEach(function(s){
  s.leaders.forEach(function(a){
    const l=mk("line",scatter,{x1:a[0],y1:a[1],x2:sx(a[2]),y2:sy(a[3]),stroke:s.color,"stroke-width":1.5});
    
    
  });
});
seriesStyles.forEach(function(s){
  s.labels.forEach(function(a){
    const t=mk("text",scatter,{x:a[1],y:a[2]+3.7,"text-anchor":"middle","font-size":10.6,fill:s.color});
    
    
    t.textContent=a[0];
  });
});

/* ---------- Panels B-D ---------- */
const panelsRoot=document.getElementById("panels");
const panelDefs=[
 {id:"igg1-influenza",title:"Influenza Virus",tx:968,ty:44,ax:877,top:69.5,bot:269,end:1058,min:3,max:7,cx:[904.3,946.3,988.3,1030.3],v:[igg1FluNeg,igg1FluHu,igg1FluPos,igg1FluHeu],sig:[{t:"ns",x:925.5,y:93,bk:[904.3,946.3,106.7,120,120]},{t:"ns",x:1009.3,y:93,bk:[988.3,1030.3,106.7,128,125]}]},
 {id:"igg1-pertussis",title:"Pertussis",tx:1201,ty:44,ax:1111,top:69.5,bot:269,end:1292,min:3,max:7,cx:[1138,1180,1222,1264],v:[igg1PerNeg,igg1PerHu,igg1PerPos,igg1PerHeu],sig:[{t:"**",x:1159,y:85,bk:[1138,1180,97.7,119,113]},{t:"ns",x:1243,y:83,bk:[1222,1264,97.7,111,113]}]},
 {id:"igg1-ppd",title:"PPD",tx:1438,ty:44,ax:1347.3,top:69.5,bot:269,end:1528.7,min:3,max:7,cx:[1374.7,1416.7,1458.7,1501],v:[igg1PpdNeg,igg1PpdHu,igg1PpdPos,igg1PpdHeu],sig:[{t:"***",x:1394,y:103,bar:[1369,1419,116.7]},{t:"*",x:1479,y:103,bar:[1454,1504,116.7]}]},
 {id:"adcp-influenza",title:"Influenza Virus",tx:971,ty:406,ax:875.7,top:430,bot:632,end:1059,min:3,max:5,cx:[904,946,988.7,1031],v:[adcpFluNeg,adcpFluHu,adcpFluPos,adcpFluHeu],sig:[{t:"ns",x:926,y:480,bar:[901,951,495.7]},{t:"ns",x:1009,y:480,bar:[984,1034,495.7]}]},
 {id:"adcp-pertussis",title:"Pertussis",tx:1201,ty:408,ax:1111,top:433,bot:632,end:1292,min:3,max:5,cx:[1138,1179.7,1221.7,1263],v:[adcpPerNeg,adcpPerHu,adcpPerPos,adcpPerHeu],sig:[{t:"*",x:1160,y:485,bar:[1135,1184,497.7]},{t:"ns",x:1242,y:483,bar:[1217,1266,497.7]}]},
 {id:"adcp-ppd",title:"PPD",tx:1437,ty:406,ax:1347,top:432.7,bot:631.7,end:1527,min:3,max:5,cx:[1374.7,1416.3,1458,1500],v:[adcpPpdNeg,adcpPpdHu,adcpPpdPos,adcpPpdHeu],sig:[{t:"ns",x:1396,y:483,bar:[1372,1420,497.3]},{t:"ns",x:1478,y:483,bar:[1453,1503,497.3]}]},
 {id:"adnp-influenza",title:"Influenza Virus",tx:971,ty:778,ax:875.7,top:801.7,bot:1003,end:1060,min:3,max:5,cx:[904.3,946.3,989,1032],v:[adnpFluNeg,adnpFluHu,adnpFluPos,adnpFluHeu],sig:[{t:"***",x:926,y:853,bar:[901,951,867]},{t:"*",x:1010,y:853,bar:[984,1034,867]}]},
 {id:"adnp-pertussis",title:"Pertussis",tx:1202,ty:779,ax:1111,top:804.3,bot:1003.5,end:1294,min:3,max:5,cx:[1138.7,1180.7,1222.7,1264],v:[adnpPerNeg,adnpPerHu,adnpPerPos,adnpPerHeu],sig:[{t:"***",x:1160,y:856,bar:[1135,1185,869]},{t:"**",x:1243,y:856,bar:[1218,1268,869]}]},
 {id:"adnp-ppd",title:"PPD",tx:1437,ty:779,ax:1347,top:804.3,bot:1003.3,end:1527,min:3,max:5,cx:[1374.7,1416.7,1458,1500],v:[adnpPpdNeg,adnpPpdHu,adnpPpdPos,adnpPpdHeu],sig:[{t:"***",x:1396,y:856,bar:[1372,1420,869]},{t:"**",x:1478,y:856,bar:[1453,1503,869]}]}
];
panelDefs.forEach(function(p){
  const g=mk("g",panelsRoot,{});
  
  
  function yv(v){return p.bot-(Math.log10(v)-p.min)/(p.max-p.min)*(p.bot-p.top);}
  const title=mk("text",g,{x:p.tx,y:p.ty,"text-anchor":"middle","font-size":17.2,"font-weight":"bold"});
  
  
  title.textContent=p.title;
  const axY=mk("line",g,{x1:p.ax,x2:p.ax,y1:p.top,y2:p.bot+0.9,stroke:"#000","stroke-width":1.8});
  
  
  const axX=mk("line",g,{x1:p.ax-9,x2:p.end,y1:p.bot,y2:p.bot,stroke:"#000","stroke-width":1.8});
  
  
  for(let e=p.min;e<=p.max;e++){
    const yy=yv(Math.pow(10,e));
    const tk=mk("line",g,{x1:p.ax-9,x2:p.ax,y1:yy,y2:yy,stroke:"#000","stroke-width":1.8});
    
    
    const lab=mk("text",g,{x:p.ax-10,y:yy+6,"text-anchor":"end","font-size":14.5,"font-weight":"bold"});
    
    
    const base=mk("tspan",lab,{});
    base.textContent="10";
    const sup=mk("tspan",lab,{dy:-6,"font-size":9.5});
    sup.textContent=String(e);
  }
  p.cx.forEach(function(cx,i){
    const tk=mk("line",g,{x1:cx,x2:cx,y1:p.bot,y2:p.bot+8,stroke:"#000","stroke-width":1.8});
    
    
    const lab=mk("text",g,{x:cx+7,y:p.bot+19,"text-anchor":"end","font-size":14.2,stroke:"#000","stroke-width":0.4,transform:"rotate(-45 "+(cx+7)+" "+(p.bot+19)+")"});
    
    
    lab.textContent=catLabels[i];
  });
  [[0,1],[2,3]].forEach(function(pair){
    const a=p.v[pair[0]],b=p.v[pair[1]];
    a.forEach(function(val,i){
      const ln=mk("line",g,{x1:p.cx[pair[0]],y1:yv(val),x2:p.cx[pair[1]],y2:yv(b[i]),stroke:"#111","stroke-width":1});
      
      
    });
  });
  p.v.forEach(function(arr,ci){
    arr.forEach(function(val){
      const c=mk("circle",g,{cx:p.cx[ci],cy:yv(val),r:4.1,fill:ci%2===0?"#1E96EE":"#F7941D",stroke:"#222","stroke-width":0.9});
      
      
    });
  });
  p.sig.forEach(function(s){
    if(s.bk){
      const bk=mk("path",g,{d:"M"+s.bk[0]+" "+s.bk[3]+"V"+s.bk[2]+"H"+s.bk[1]+"V"+s.bk[4],fill:"none",stroke:"#000","stroke-width":1.6});
      
      
    }
    if(s.bar){
      const br=mk("line",g,{x1:s.bar[0],x2:s.bar[1],y1:s.bar[2],y2:s.bar[2],stroke:"#000","stroke-width":3,"stroke-linecap":"round"});
      
      
    }
    const stars=s.t!=="ns";
    const t=mk("text",g,{x:s.x,y:stars?s.y+15:s.y+4.5,"text-anchor":"middle","font-size":stars?27:15,"font-weight":stars?"bold":"normal"});
    
    
    t.textContent=s.t;
  });
});
</script>
</body>
</html>
